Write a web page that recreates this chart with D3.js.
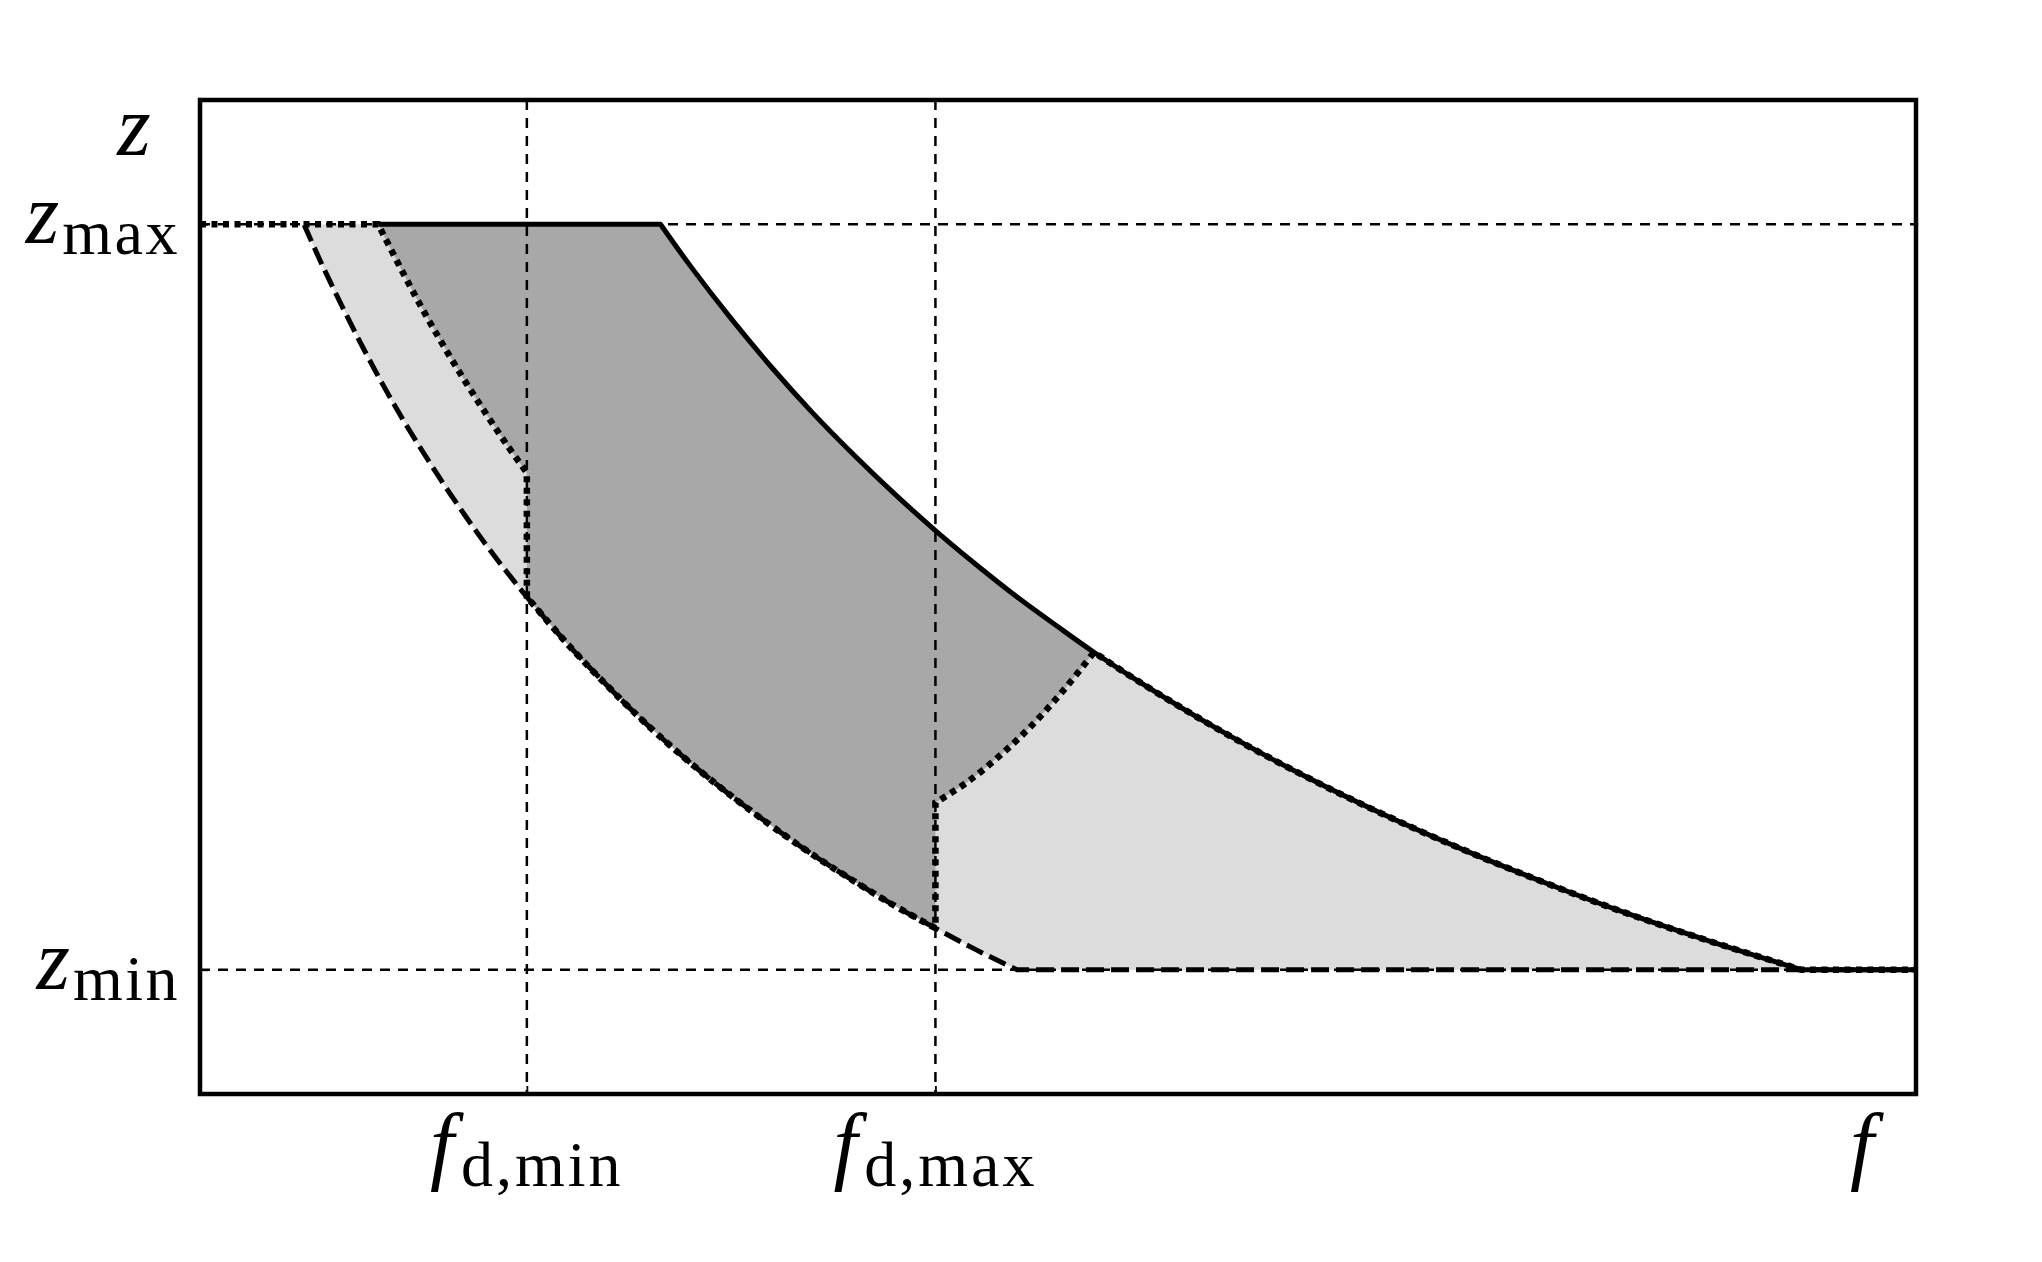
<!DOCTYPE html>
<html>
<head>
<meta charset="utf-8">
<script src="https://cdn.jsdelivr.net/npm/d3@7"></script>
<style>
html,body{margin:0;padding:0;background:#fff;}
svg{display:block;}
</style>
</head>
<body>
<script>
// ---------- data ----------
const fDomain = [1.2, 5.4];
const zDomain = [0.8, 2.4];
const fTicks = [2.0, 3.0];            // f_d,min , f_d,max
const fTickSubs = ["d,min", "d,max"];
const zTicks = [1.0, 2.2];            // z_min , z_max
const zTickSubs = ["min", "max"];
const zMin = 1.0, zMax = 2.2;

// lower bound (dashed) – curved part, from z_max down to z_min
const lowerF = [1.455, 1.50, 1.55, 1.60, 1.65, 1.70, 1.75, 1.80, 1.85, 1.90, 1.95, 2.00, 2.10, 2.20, 2.30, 2.40, 2.50, 2.60, 2.70, 2.80, 2.90, 3.00, 3.10, 3.20];
const lowerZ = [2.199, 2.133, 2.065, 2.000, 1.939, 1.882, 1.829, 1.778, 1.730, 1.684, 1.641, 1.600, 1.524, 1.455, 1.391, 1.333, 1.280, 1.231, 1.185, 1.143, 1.103, 1.067, 1.032, 1.000];

// upper bound (solid): flat start on z_max, then curved part down to z_min
const upperFlatStart = 1.636;
const upperF = [2.327, 2.40, 2.50, 2.60, 2.70, 2.80, 2.90, 3.00, 3.10, 3.20, 3.30, 3.388, 3.50, 3.70, 3.90, 4.10, 4.30, 4.50, 4.70, 4.90, 5.12];
const upperZ = [2.200, 2.133, 2.048, 1.969, 1.896, 1.829, 1.766, 1.707, 1.652, 1.600, 1.552, 1.511, 1.463, 1.384, 1.313, 1.249, 1.191, 1.138, 1.089, 1.045, 1.000];

// dotted transition near f_d,min (from z_max down to f_d,min)
const leftF = [1.636, 1.70, 1.75, 1.80, 1.85, 1.90, 1.95, 2.00];
const leftZ = [2.200, 2.118, 2.057, 2.000, 1.946, 1.895, 1.846, 1.800];

// dotted transition near f_d,max (from f_d,max up to the solid bound)
const rightF = [3.00, 3.08, 3.16, 3.24, 3.32, 3.388];
const rightZ = [1.269, 1.303, 1.346, 1.396, 1.455, 1.511];

// ---------- drawing ----------
const W = 2042, H = 1262;
const svg = d3.select("body").append("svg").attr("width", W).attr("height", H);

const x = d3.scaleLinear().domain(fDomain).range([200, 1916]);
const y = d3.scaleLinear().domain(zDomain).range([1094, 100]);

const pts = (F, Z) => F.map((f, i) => [f, Z[i]]);
const smooth = d3.line().x(d => x(d[0])).y(d => y(d[1])).curve(d3.curveCatmullRom.alpha(0.5));
const straight = d3.line().x(d => x(d[0])).y(d => y(d[1]));

// join several path pieces into one continuous path
function join(pieces) {
  return pieces.map((p, i) => i === 0 ? p : "L" + p.slice(1)).join("");
}

const lower = pts(lowerF, lowerZ);
const upper = pts(upperF, upperZ);
const left = pts(leftF, leftZ);
const right = pts(rightF, rightZ);
const fStart = fDomain[0], fEnd = fDomain[1];
const fdMin = fTicks[0], fdMax = fTicks[1];
const fJoin = rightF[rightF.length - 1];
const lowerMid = lower.filter(d => d[0] >= fdMin && d[0] <= fdMax);
const upperHi = upper.filter(d => d[0] <= fJoin);
const upperLo = upper.filter(d => d[0] >= fJoin);
const upperEnd = upper[upper.length - 1];
const lowerEnd = lower[lower.length - 1];
const rev = a => a.slice().reverse();

// light region between lower and upper bounds
const lightD = join([
  straight([[lowerF[0], zMax], upper[0]]),
  smooth(upper),
  straight([upperEnd, lowerEnd]),
  smooth(rev(lower))
]) + "Z";
svg.append("path").attr("d", lightD).attr("fill", "#dcdcdc");

// dark region
const darkD = join([
  straight([[upperFlatStart, zMax], upper[0]]),
  smooth(upperHi),
  smooth(rev(right)),
  smooth(rev(lowerMid)),
  smooth(rev(left))
]) + "Z";
svg.append("path").attr("d", darkD).attr("fill", "#a8a8a8");

// reference grid lines (thin dashed)
const grid = svg.append("g").attr("stroke", "#000").attr("stroke-width", 2.5)
  .attr("stroke-dasharray", "10,8").attr("fill", "none");
fTicks.forEach(f => grid.append("line").attr("x1", x(f)).attr("x2", x(f))
  .attr("y1", y(zDomain[1])).attr("y2", y(zDomain[0])));
zTicks.forEach(z => grid.append("line").attr("x1", x(fDomain[0])).attr("x2", x(fDomain[1]))
  .attr("y1", y(z)).attr("y2", y(z)));

// lower bound: dashed
svg.append("path").attr("d", join([smooth(lower), straight([lowerEnd, [fEnd, zMin]])]))
  .attr("fill", "none").attr("stroke", "#000").attr("stroke-width", 5)
  .attr("stroke-dasharray", "18,7");

// upper bound: solid
svg.append("path").attr("d", join([
    straight([[upperFlatStart, zMax], upper[0]]),
    smooth(upper),
    straight([upperEnd, [fEnd, zMin]])
  ]))
  .attr("fill", "none").attr("stroke", "#000").attr("stroke-width", 5)
  .attr("stroke-linejoin", "round");

// dotted trajectory
svg.append("path").attr("d", join([
    straight([[fStart, zMax], left[0]]),
    smooth(left),
    smooth(lowerMid),
    smooth(right),
    smooth(upperLo),
    straight([upperEnd, [fEnd, zMin]])
  ]))
  .attr("fill", "none").attr("stroke", "#000").attr("stroke-width", 6.5)
  .attr("stroke-dasharray", "6,5.5");

// frame
svg.append("rect").attr("x", x(fDomain[0])).attr("y", y(zDomain[1]))
  .attr("width", x(fDomain[1]) - x(fDomain[0])).attr("height", y(zDomain[0]) - y(zDomain[1]))
  .attr("fill", "none").attr("stroke", "#000").attr("stroke-width", 4.5);

// ticks via d3 axes (inward)
const xAxis = svg.append("g").attr("transform", `translate(0,${y(zDomain[0])})`)
  .call(d3.axisBottom(x).tickValues(fTicks).tickSize(-8).tickFormat(() => ""));
const yAxis = svg.append("g").attr("transform", `translate(${x(fDomain[0])},0)`)
  .call(d3.axisLeft(y).tickValues(zTicks).tickSize(-8).tickFormat(() => ""));
[xAxis, yAxis].forEach(a => {
  a.select(".domain").remove();
  a.selectAll(".tick line").attr("stroke", "#000").attr("stroke-width", 1.8);
});

// labels
const fontMain = "'Liberation Serif', 'DejaVu Serif', serif";
const mainSize = 86, subSize = 64;

fTicks.forEach((f, i) => {
  const t = svg.append("text").attr("x", x(f)).attr("y", 1173)
    .attr("text-anchor", "middle").attr("font-family", fontMain);
  t.append("tspan").attr("font-style", "italic").attr("font-size", mainSize).text("f");
  t.append("tspan").attr("font-size", subSize).attr("dx", 7).attr("dy", 13)
    .attr("letter-spacing", 3).text(fTickSubs[i]);
});

zTicks.forEach((z, i) => {
  const t = svg.append("text").attr("x", 180).attr("y", y(z) + 19)
    .attr("text-anchor", "end").attr("font-family", fontMain);
  t.append("tspan").attr("font-style", "italic").attr("font-size", mainSize).text("z");
  t.append("tspan").attr("font-size", subSize).attr("dx", 3).attr("dy", 11)
    .attr("letter-spacing", 2.5).text(zTickSubs[i]);
});

svg.append("text").attr("x", 134).attr("y", 155).attr("text-anchor", "middle")
  .attr("font-family", fontMain).attr("font-style", "italic").attr("font-size", mainSize).text("z");
svg.append("text").attr("x", 1862).attr("y", 1173).attr("text-anchor", "middle")
  .attr("font-family", fontMain).attr("font-style", "italic").attr("font-size", mainSize).text("f");
</script>
</body>
</html>
